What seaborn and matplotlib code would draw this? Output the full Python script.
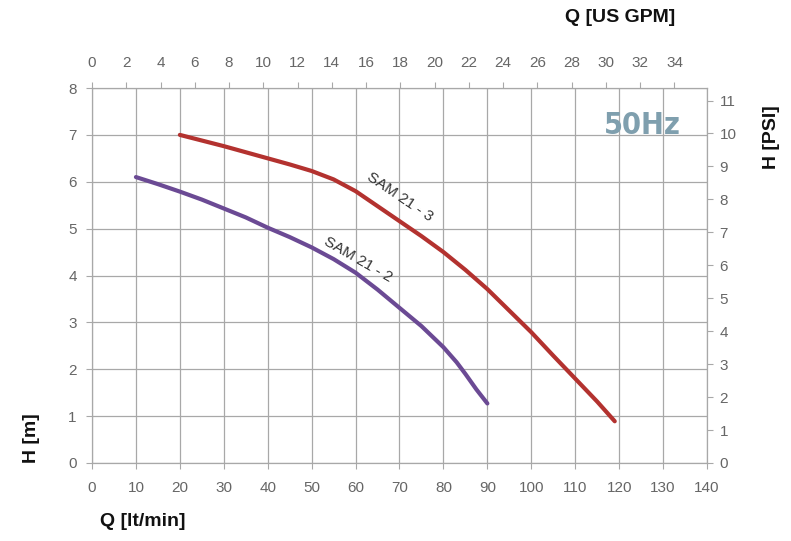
import matplotlib
matplotlib.use("Agg")
import matplotlib.pyplot as plt
import pandas as pd
import seaborn as sns

# 曲线数据
q_sam3 = [20, 25, 30, 35, 40, 45, 50, 55, 60, 65, 70, 75, 80, 85, 90, 95, 100, 105, 110, 115, 119]
h_sam3 = [7.0, 6.88, 6.76, 6.63, 6.5, 6.37, 6.23, 6.05, 5.8, 5.48, 5.16, 4.84, 4.5, 4.12,
          3.71, 3.25, 2.79, 2.29, 1.8, 1.31, 0.89]

q_sam2 = [10, 15, 20, 25, 30, 35, 40, 45, 50, 55, 60, 65, 70, 75, 80, 83, 85, 87.5, 90]
h_sam2 = [6.1, 5.95, 5.79, 5.62, 5.43, 5.24, 5.02, 4.82, 4.6, 4.35, 4.06, 3.7, 3.31, 2.92,
          2.47, 2.15, 1.9, 1.57, 1.27]

models = ["SAM 21 - 3", "SAM 21 - 2"]
colors = {"SAM 21 - 3": "#b3322f", "SAM 21 - 2": "#6b4a94"}

x_ticks = list(range(0, 141, 10))
y_ticks = list(range(0, 9))
gpm_ticks = list(range(0, 35, 2))
psi_ticks = list(range(0, 12))

LPM_PER_GPM = 3.9   # 原图刻度的换算
M_PER_PSI = 0.703

sns.set_theme(style="white")
plt.rcParams['font.family'] = ['Liberation Sans', 'DejaVu Sans']

df = pd.concat([
    pd.DataFrame({"Q": q_sam3, "H": h_sam3, "model": models[0]}),
    pd.DataFrame({"Q": q_sam2, "H": h_sam2, "model": models[1]}),
])

fig = plt.figure(figsize=(7.91, 5.41), dpi=100)
ax = fig.add_axes([0.1163, 0.1442, 0.7775, 0.6931])

grid_c = "#a8a8a8"
tick_c = "#666666"

sns.lineplot(data=df, x="Q", y="H", hue="model", palette=colors, sort=False,
             linewidth=3, legend=False, ax=ax, solid_capstyle="round",
             solid_joinstyle="round")

ax.set_xlim(0, 140)
ax.set_ylim(0, 8)
ax.set_xticks(x_ticks)
ax.set_yticks(y_ticks)
ax.grid(True, color=grid_c, linewidth=0.9)
ax.set_axisbelow(True)
for s in ax.spines.values():
    s.set_color(grid_c)
    s.set_linewidth(0.9)
ax.tick_params(axis="both", direction="out", length=4, width=0.8, color=grid_c,
               labelcolor=tick_c, labelsize=11, pad=6)
ax.tick_params(axis="x", bottom=True, pad=9)
ax.tick_params(axis="y", left=True, pad=7)
ax.set_xlabel("")
ax.set_ylabel("")

# 上方 US GPM 轴
top = ax.secondary_xaxis("top", functions=(lambda q: q / LPM_PER_GPM, lambda g: g * LPM_PER_GPM))
top.set_xticks(gpm_ticks)
top.tick_params(direction="out", length=4, width=0.8, color=grid_c, labelcolor=tick_c,
                labelsize=11, pad=9)
top.spines["top"].set_visible(False)

# 右侧 PSI 轴
right = ax.secondary_yaxis("right", functions=(lambda h: h / M_PER_PSI, lambda p: p * M_PER_PSI))
right.set_yticks(psi_ticks)
right.tick_params(direction="out", length=4, width=0.8, color=grid_c, labelcolor=tick_c,
                  labelsize=11, pad=5)
right.spines["right"].set_visible(False)

# 曲线标注
ax.text(70.1, 5.67, "SAM 21 - 3", rotation=-34, ha="center", va="center",
        fontsize=11, color="#333333", rotation_mode="anchor")
ax.text(60.6, 4.33, "SAM 21 - 2", rotation=-30, ha="center", va="center",
        fontsize=11, color="#333333", rotation_mode="anchor")

ax.text(125.2, 7.19, "50Hz", ha="center", va="center", fontsize=22, fontweight="bold",
        fontstretch="condensed", color="#7f9fae", family=["DejaVu Sans"])

# 轴标题
fig.text(143 / 791, 1 - 522 / 541, "Q [lt/min]", ha="center", va="center",
         fontsize=14, fontweight="bold", color="#111111")
fig.text(620 / 791, 1 - 18 / 541, "Q [US GPM]", ha="center", va="center",
         fontsize=14, fontweight="bold", color="#111111")
fig.text(31 / 791, 1 - 438 / 541, "H [m]", ha="center", va="center", rotation=90,
         fontsize=14, fontweight="bold", color="#111111")
fig.text(771 / 791, 1 - 137 / 541, "H [PSI]", ha="center", va="center", rotation=90,
         fontsize=14, fontweight="bold", color="#111111")

fig.savefig("out.png", dpi=100)
